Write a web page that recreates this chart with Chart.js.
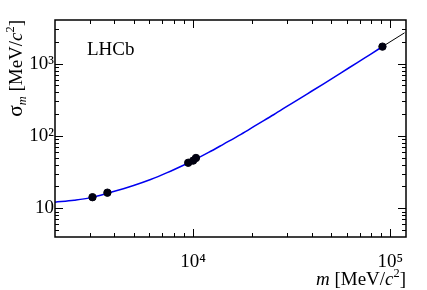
<!DOCTYPE html>
<html>
<head>
<meta charset="utf-8">
<script src="https://cdn.jsdelivr.net/npm/chart.js@4.4.1/dist/chart.umd.min.js"></script>
<style>
  html, body { margin: 0; padding: 0; background: #fff; }
  #wrap { width: 427px; height: 290px; }
</style>
</head>
<body>
<div id="wrap"><canvas id="massChart" width="427" height="290"></canvas></div>
<script>
// measured peaks (J/psi, psi(2S), Y(1S), Y(2S), Y(3S), Z)
const peakMass = [3097, 3686, 9460, 10023, 10355, 91188];
const peakWidth = [14.2, 16.4, 42.5, 45.5, 49.5, 1714];

// fitted resolution curve
const fitMass = [2000, 2500, 3000, 3800, 5000, 6100, 7400, 9000, 10000, 12000, 14300, 17500,
                 21100, 25600, 31100, 38000, 45900, 56000, 67700, 80000, 91188];
const fitWidth = [12.1, 12.9, 13.9, 16.5, 20.6, 24.9, 31, 39.6, 45.5, 59, 77, 105,
                  143, 196, 273, 382, 525, 738, 1025, 1365, 1714];

// extrapolation past the Z
const extMass = [91188, 118000];
const extWidth = [1714, 2660];

const xTickValues = [10000, 100000];
const yTickValues = [10, 100, 1000];

const serif = "'Liberation Serif', 'DejaVu Serif', serif";
const sup = { 1: '', 2: '\u00b2', 3: '\u00b3', 4: '\u2074', 5: '\u2075' };

function toPoints(xs, ys) {
    return xs.map((x, i) => ({ x: x, y: ys[i] }));
}

function powLabel(v) {
    const e = Math.round(Math.log10(v));
    return '10' + sup[e];
}

// draws a list of text pieces with italic / superscript / subscript parts
function drawRich(ctx, parts, x, y, size, alignRight) {
    const fontOf = p => {
        const s = (p.sup || p.sub) ? size * 0.65 : (p.big ? size * 1.12 : size);
        return (p.italic ? 'italic ' : '') + s + 'px ' + serif;
    };
    let total = 0;
    parts.forEach(p => { ctx.font = fontOf(p); total += ctx.measureText(p.t).width; });
    let cx = alignRight ? x - total : x;
    parts.forEach(p => {
        ctx.font = fontOf(p);
        let dy = 0;
        if (p.sup) dy = -size * 0.42;
        if (p.sub) dy = size * 0.2;
        ctx.fillText(p.t, cx, y + dy);
        cx += ctx.measureText(p.t).width;
    });
}

const framePlugin = {
    id: 'frame',
    afterDraw(chart) {
        const ctx = chart.ctx;
        const a = chart.chartArea;
        const xs = chart.scales.x, ys = chart.scales.y;
        ctx.save();
        ctx.strokeStyle = '#000';
        ctx.lineWidth = 1.5;
        ctx.strokeRect(a.left, a.top, a.right - a.left, a.bottom - a.top);

        ctx.lineWidth = 1;
        ctx.beginPath();
        for (let e = 3; e <= 5; e++) {
            for (let m = 1; m <= 9; m++) {
                const v = m * Math.pow(10, e);
                if (v <= xs.min || v >= xs.max) continue;
                const px = Math.round(xs.getPixelForValue(v)) + 0.5;
                const len = m === 1 ? 8 : 4;
                ctx.moveTo(px, a.bottom); ctx.lineTo(px, a.bottom - len);
                ctx.moveTo(px, a.top); ctx.lineTo(px, a.top + len);
            }
        }
        for (let e = 0; e <= 3; e++) {
            for (let m = 1; m <= 9; m++) {
                const v = m * Math.pow(10, e);
                if (v <= ys.min || v >= ys.max) continue;
                const py = Math.round(ys.getPixelForValue(v)) + 0.5;
                const len = m === 1 ? 8 : 4;
                ctx.moveTo(a.left, py); ctx.lineTo(a.left + len, py);
                ctx.moveTo(a.right, py); ctx.lineTo(a.right - len, py);
            }
        }
        ctx.stroke();

        ctx.fillStyle = '#000';
        ctx.textBaseline = 'alphabetic';
        // experiment label
        ctx.font = '19px ' + serif;
        ctx.fillText('LHCb', 87, 55);

        // x title
        drawRich(ctx, [
            { t: 'm', italic: true },
            { t: ' [MeV/' },
            { t: 'c', italic: true },
            { t: '2', sup: true },
            { t: ']' }
        ], a.right, 285, 19, true);

        // y title, rotated
        ctx.translate(22, a.top);
        ctx.rotate(-Math.PI / 2);
        drawRich(ctx, [
            { t: '\u03c3', big: true },
            { t: 'm', italic: true, sub: true },
            { t: ' [MeV/' },
            { t: 'c', italic: true },
            { t: '2', sup: true },
            { t: ']' }
        ], 0, 0, 19, true);
        ctx.restore();
    }
};

const ctx = document.getElementById('massChart').getContext('2d');
const massChart = new Chart(ctx, {
    type: 'scatter',
    data: {
        datasets: [
            {
                label: 'peaks',
                data: toPoints(peakMass, peakWidth),
                backgroundColor: '#000010',
                borderColor: '#000010',
                pointRadius: 3.7,
                order: 1
            },
            {
                label: 'fit',
                data: toPoints(fitMass, fitWidth),
                showLine: true,
                borderColor: '#0000f0',
                borderWidth: 1.5,
                pointRadius: 0,
                cubicInterpolationMode: 'monotone',
                order: 2
            },
            {
                label: 'extrapolation',
                data: toPoints(extMass, extWidth),
                showLine: true,
                borderColor: '#000',
                borderWidth: 1,
                pointRadius: 0,
                order: 3
            }
        ]
    },
    options: {
        responsive: false,
        animation: false,
        layout: { padding: { top: 20, right: 21, left: 0, bottom: 0 } },
        plugins: {
            legend: { display: false },
            tooltip: { enabled: false }
        },
        scales: {
            x: {
                type: 'logarithmic',
                min: 2000,
                max: 120000,
                grid: { display: false, drawTicks: false },
                border: { display: false },
                afterBuildTicks: s => { s.ticks = xTickValues.map(v => ({ value: v })); },
                afterFit: s => { s.height = 53; },
                ticks: {
                    autoSkip: false,
                    maxRotation: 0,
                    padding: 14,
                    color: '#000',
                    font: { family: serif, size: 19 },
                    callback: v => powLabel(v)
                }
            },
            y: {
                type: 'logarithmic',
                min: 4,
                max: 4000,
                grid: { display: false, drawTicks: false },
                border: { display: false },
                afterBuildTicks: s => { s.ticks = yTickValues.map(v => ({ value: v })); },
                afterFit: s => { s.width = 55; },
                ticks: {
                    autoSkip: false,
                    padding: 1,
                    color: '#000',
                    font: { family: serif, size: 19 },
                    callback: v => powLabel(v)
                }
            }
        }
    },
    plugins: [framePlugin]
});
</script>
</body>
</html>
